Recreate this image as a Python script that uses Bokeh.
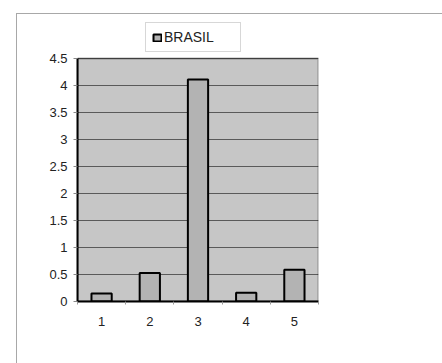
from bokeh.plotting import figure
from bokeh.models import (FixedTicker, Legend, LegendItem, Range1d,
                          ColumnDataSource, BoxAnnotation)
from bokeh.embed import file_html
from bokeh.resources import INLINE

categories = [1, 2, 3, 4, 5]
brasil = [0.15, 0.53, 4.11, 0.16, 0.59]
y_ticks = [0, 0.5, 1, 1.5, 2, 2.5, 3, 3.5, 4, 4.5]
y_tick_labels = ["0", "0.5", "1", "1.5", "2", "2.5", "3", "3.5", "4", "4.5"]
series_name = "BRASIL"

FONT = "Liberation Sans"
Y_MAX = 4.5
Y_VIEW = Y_MAX * 281 / 243  # extra room above the plot area for the legend

p = figure(frame_width=241, frame_height=281, output_backend="svg", toolbar_location=None,
           x_range=Range1d(0.5, 5.5), y_range=Range1d(0, Y_VIEW),
           margin=(13, 0, 0, 16),
           styles={"border-left": "1px solid #a8a8a8",
                   "border-top": "1px solid #a8a8a8"})
p.min_border_left = 60
p.min_border_right = 124
p.min_border_top = 6
p.min_border_bottom = 62
p.border_fill_color = "white"
p.background_fill_color = "white"
p.outline_line_color = None

# plot area (grey fill under grid) and its black outline
area = BoxAnnotation(left=0.5, right=5.5, bottom=0, top=Y_MAX,
                     fill_color="#c6c6c6", fill_alpha=1, line_color=None,
                     level="underlay")
p.center = [area] + list(p.center)
p.add_layout(BoxAnnotation(left=0.5, right=5.5, bottom=0, top=Y_MAX,
                           fill_alpha=0, line_color="black", line_width=2,
                           level="overlay"))

src = ColumnDataSource(dict(x=categories, top=brasil))
r = p.vbar(x="x", top="top", width=0.42, source=src, fill_color="#b3b3b3",
           line_color="black", line_width=2)

p.xgrid.grid_line_color = None
p.ygrid.grid_line_color = "#5a5a5a"
p.ygrid.grid_line_width = 1
p.ygrid.ticker = FixedTicker(ticks=y_ticks)

p.xaxis.ticker = FixedTicker(ticks=categories,
                             minor_ticks=[c - 0.5 for c in categories] + [categories[-1] + 0.5])
p.xaxis.major_tick_line_color = None
p.xaxis.minor_tick_in = 0
p.xaxis.minor_tick_out = 3
p.xaxis.minor_tick_line_color = "#999999"
p.xaxis.axis_line_color = "black"
p.xaxis.axis_line_width = 2
p.xaxis.major_label_standoff = 9

p.yaxis.ticker = FixedTicker(ticks=y_ticks)
p.yaxis.bounds = (0, Y_MAX)
p.yaxis.major_label_overrides = {t: l for t, l in zip(y_ticks, y_tick_labels)}
p.yaxis.major_tick_in = 0
p.yaxis.major_tick_out = 4
p.yaxis.major_tick_line_color = "#888888"
p.yaxis.minor_tick_line_color = None
p.yaxis.axis_line_color = "black"
p.yaxis.axis_line_width = 2
p.yaxis.major_label_standoff = 6

for ax in (p.xaxis[0], p.yaxis[0]):
    ax.major_label_text_font = FONT
    ax.major_label_text_font_size = "13px"
    ax.major_label_text_color = "#222222"

legend = Legend(items=[LegendItem(label=series_name, renderers=[r])],
                location=(68, 249), orientation="horizontal",
                border_line_color="#b0b0b0", border_line_width=1,
                background_fill_color="white", background_fill_alpha=1,
                label_text_font=FONT, label_text_font_size="14px",
                label_text_color="#222222",
                glyph_width=10, glyph_height=9, label_standoff=2,
                label_width=70, label_height=16,
                padding=6, margin=0, spacing=0)
p.add_layout(legend, "center")

open("out.html", "w").write(file_html(p, INLINE))
